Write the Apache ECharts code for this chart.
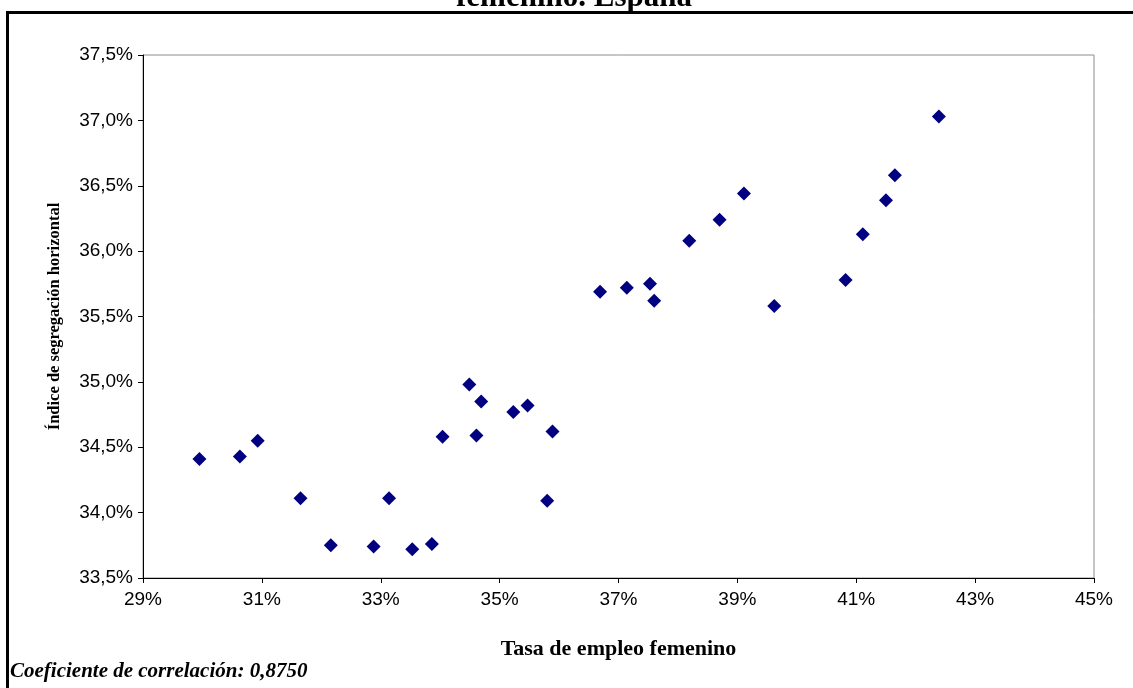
<!DOCTYPE html>
<html>
<head>
<meta charset="utf-8">
<script src="https://cdn.jsdelivr.net/npm/echarts@6/dist/echarts.min.js"></script>
<style>
  html, body { margin: 0; padding: 0; background: #ffffff; }
  #chart { width: 1133px; height: 688px; }
</style>
</head>
<body>
<div id="chart"></div>
<script>
// Tasa de empleo femenino (%) y su índice de segregación horizontal (%)
const tasaEmpleo = [
  29.95, 30.63, 30.93, 31.65, 32.16, 32.88, 33.14, 33.53, 33.86, 34.04,
  34.49, 34.61, 34.69, 35.23, 35.47, 35.89, 35.80, 36.69, 37.14, 37.53,
  37.60, 38.19, 38.70, 39.11, 39.62, 40.82, 41.11, 41.50, 41.65, 42.39
];
const indiceSegregacion = [
  34.41, 34.43, 34.55, 34.11, 33.75, 33.74, 34.11, 33.72, 33.76, 34.58,
  34.98, 34.59, 34.85, 34.77, 34.82, 34.62, 34.09, 35.69, 35.72, 35.75,
  35.62, 36.08, 36.24, 36.44, 35.58, 35.78, 36.13, 36.39, 36.58, 37.03
];

const tituloGrafico = 'femenino. España';
const tituloEjeX = 'Tasa de empleo femenino';
const tituloEjeY = 'Índice de segregación horizontal';
const notaCorrelacion = 'Coeficiente de correlación: 0,8750';

const puntos = tasaEmpleo.map((x, i) => [x, indiceSegregacion[i]]);

const serif = '"Liberation Serif", "Times New Roman", serif';
const sans = '"Liberation Sans", Arial, sans-serif';

const chart = echarts.init(document.getElementById('chart'), null, { renderer: 'canvas' });

chart.setOption({
  backgroundColor: '#ffffff',
  animation: false,
  grid: {
    left: 143, top: 55, right: 39, bottom: 110,
    show: true,
    borderColor: '#8c8c8c',
    borderWidth: 1,
    backgroundColor: '#ffffff'
  },
  xAxis: {
    type: 'value',
    min: 29, max: 45, interval: 2,
    name: tituloEjeX,
    nameLocation: 'middle',
    nameGap: 60,
    nameTextStyle: { fontFamily: serif, fontWeight: 'bold', fontSize: 22, color: '#000' },
    axisLine: { show: true, onZero: false, lineStyle: { color: '#000', width: 1 } },
    axisTick: { show: true, inside: false, length: 5, lineStyle: { color: '#000' } },
    axisLabel: {
      margin: 12, color: '#000', fontFamily: sans, fontSize: 19,
      formatter: v => v + '%'
    },
    splitLine: { show: false }
  },
  yAxis: {
    type: 'value',
    min: 33.5, max: 37.5, interval: 0.5,
    name: tituloEjeY,
    nameLocation: 'middle',
    nameGap: 80,
    nameMoveOverlap: false,
    nameRotate: 90,
    nameTextStyle: { fontFamily: serif, fontWeight: 'bold', fontSize: 16.5, color: '#000' },
    axisLine: { show: true, onZero: false, lineStyle: { color: '#000', width: 1 } },
    axisTick: { show: true, inside: false, length: 5, lineStyle: { color: '#000' } },
    axisLabel: {
      margin: 10, color: '#000', fontFamily: sans, fontSize: 19,
      formatter: v => v.toFixed(1).replace('.', ',') + '%'
    },
    splitLine: { show: false }
  },
  series: [{
    type: 'scatter',
    data: puntos,
    symbol: 'diamond',
    symbolSize: 14,
    itemStyle: { color: '#000080', opacity: 1 }
  }],
  graphic: [
    {
      type: 'rect',
      left: 5, top: 10, silent: true,
      shape: { x: 0, y: 0, width: 1160, height: 700 },
      style: { fill: 'none', stroke: '#000', lineWidth: 3 },
      z: -1
    },
    {
      type: 'text',
      x: 574, y: 13,
      style: {
        text: tituloGrafico,
        fontFamily: serif, fontWeight: 'bold', fontSize: 31,
        fill: '#000', align: 'center', verticalAlign: 'bottom'
      }
    },
    {
      type: 'text',
      x: 10, y: 672,
      style: {
        text: notaCorrelacion,
        fontFamily: serif, fontWeight: 'bold', fontStyle: 'italic', fontSize: 21,
        fill: '#000', align: 'left', verticalAlign: 'middle'
      }
    }
  ]
});
</script>
</body>
</html>
